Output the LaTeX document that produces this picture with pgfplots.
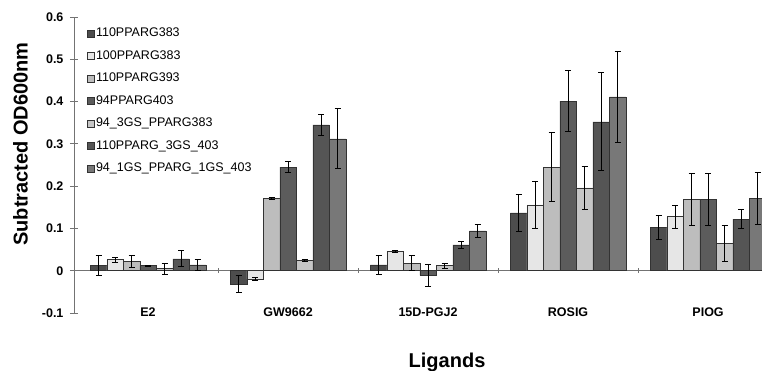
\documentclass[border=0pt]{standalone}
\usepackage{pgfplots}
\pgfplotsset{compat=1.18}
\usepackage{fontspec}
\setmainfont{Liberation Sans}
\definecolor{cA}{HTML}{4D4D4D}
\definecolor{cB}{HTML}{E6E6E6}
\definecolor{cC}{HTML}{BDBDBD}
\definecolor{cD}{HTML}{5C5C5C}
\definecolor{cE}{HTML}{C6C6C6}
\definecolor{cF}{HTML}{555555}
\definecolor{cG}{HTML}{787878}
\pgfplotsset{
  mybar/.style={draw=black!80, line width=0.5pt,
    legend image code/.code={\draw[##1, draw=black!80, line width=0.4pt] (0pt,-3.5pt) rectangle (7pt,3.5pt);},
    error bars/.cd, y dir=both, y explicit,
    error bar style={black, line width=0.9pt},
    error mark options={rotate=90, mark size=3pt, line width=0.9pt, black}},
}
\begin{document}
\begin{tikzpicture}
\begin{axis}[
  scale only axis, width=690pt, height=296pt,
  xmin=-0.529, xmax=4.4, ymin=-0.1, ymax=0.6,
  clip=false,
  axis x line=middle, axis y line=left,
  axis line style={-, draw=black!55, line width=0.8pt},
  ybar=0pt, bar width=16.5pt,
  xtick={0,1,2,3,4}, xticklabels={E2,GW9662,15D-PGJ2,ROSIG,PIOG},
  major x tick style={draw=none},
  minor xtick={0.5,1.5,2.5,3.5}, minor tick length=5pt,
  ytick={-0.1,0,0.1,0.2,0.3,0.4,0.5,0.6},
  yticklabels={-0.1,0,0.1,0.2,0.3,0.4,0.5,0.6},
  major tick length=8pt, tick align=center,
  tick style={draw=black!55, line width=0.8pt},
  ticklabel style={font=\fontsize{12.5}{14}\selectfont\bfseries},
  xticklabel style={anchor=center, yshift=-37pt},
  yticklabel style={anchor=east, xshift=-3pt},
  ylabel={Subtracted OD600nm},
  every axis y label/.style={at={(rel axis cs:-0.0775,0.571)}, rotate=90, anchor=center, font=\fontsize{20}{24}\selectfont\bfseries},
  xlabel={Ligands},
  every axis x label/.style={at={(rel axis cs:0.5406,-0.1655)}, anchor=center, font=\fontsize{20}{24}\selectfont\bfseries},
  legend style={at={(0.0188,0.97)}, anchor=north west, draw=none, fill=none, inner sep=0pt, row sep=8pt,
    font=\fontsize{12.5}{14}\selectfont, nodes={text height=9pt, text depth=2.5pt, inner sep=1.5pt}},
  legend cell align=left,
]
\addplot[fill=cA, mybar] coordinates {(0,0.012) +- (0,0.024) (1,-0.032) +- (0,0.020) (2,0.014) +- (0,0.022) (3,0.137) +- (0,0.043) (4,0.102) +- (0,0.028)};
\addplot[fill=cB, mybar] coordinates {(0,0.026) +- (0,0.006) (1,-0.020) +- (0,0.004) (2,0.046) +- (0,0.002) (3,0.156) +- (0,0.056) (4,0.128) +- (0,0.027)};
\addplot[fill=cC, mybar] coordinates {(0,0.022) +- (0,0.015) (1,0.171) +- (0,0.002) (2,0.018) +- (0,0.017) (3,0.245) +- (0,0.082) (4,0.168) +- (0,0.062)};
\addplot[fill=cD, mybar] coordinates {(0,0.012) +- (0,0.001) (1,0.245) +- (0,0.013) (2,-0.011) +- (0,0.025) (3,0.401) +- (0,0.072) (4,0.168) +- (0,0.062)};
\addplot[fill=cE, mybar] coordinates {(0,0.005) +- (0,0.013) (1,0.024) +- (0,0.002) (2,0.012) +- (0,0.006) (3,0.196) +- (0,0.050) (4,0.064) +- (0,0.043)};
\addplot[fill=cF, mybar] coordinates {(0,0.028) +- (0,0.019) (1,0.345) +- (0,0.025) (2,0.061) +- (0,0.008) (3,0.352) +- (0,0.116) (4,0.122) +- (0,0.022)};
\addplot[fill=cG, mybar] coordinates {(0,0.014) +- (0,0.013) (1,0.312) +- (0,0.071) (2,0.094) +- (0,0.016) (3,0.411) +- (0,0.107) (4,0.171) +- (0,0.062)};
\legend{110PPARG383,100PPARG383,110PPARG393,94PPARG403,94\_3GS\_PPARG383,110PPARG\_3GS\_403,94\_1GS\_PPARG\_1GS\_403}
\coordinate (bbA) at (rel axis cs:-0.1072,-0.1926);
\coordinate (bbB) at (rel axis cs:0.997,1.0574);
\end{axis}
\pgfresetboundingbox
\path[use as bounding box] (bbA) rectangle (bbB);
\end{tikzpicture}
\end{document}
